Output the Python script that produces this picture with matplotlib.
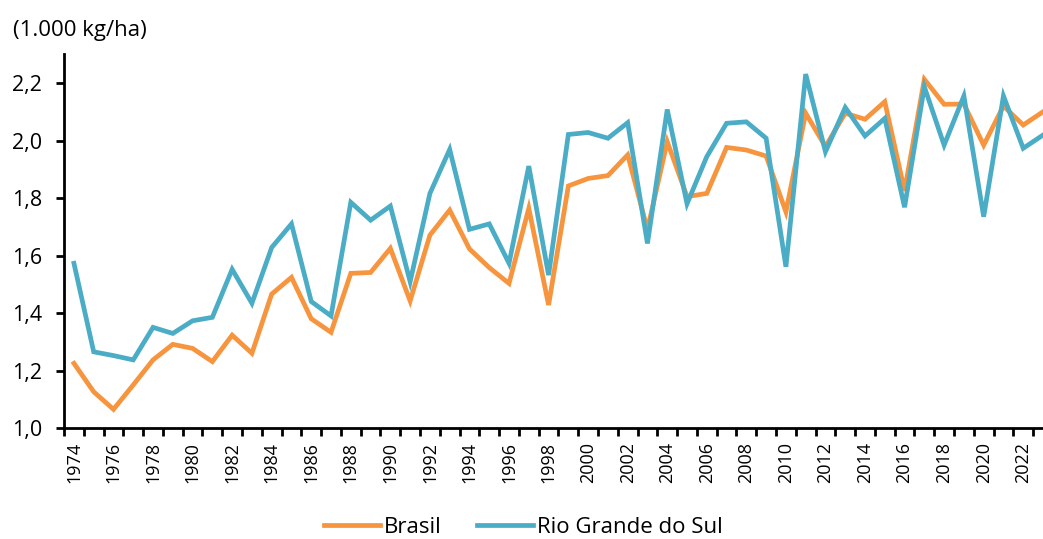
import matplotlib.pyplot as plt
import numpy as np

plt.rcParams['font.family'] = ['Open Sans', 'DejaVu Sans']

anos = list(range(1974, 2024))
brasil = [1.225, 1.126, 1.065, 1.150, 1.237, 1.291, 1.277, 1.231, 1.323, 1.260,
          1.466, 1.524, 1.380, 1.333, 1.538, 1.541, 1.625, 1.442, 1.671, 1.758,
          1.623, 1.558, 1.503, 1.764, 1.428, 1.842, 1.868, 1.878, 1.950, 1.690,
          1.996, 1.805, 1.816, 1.976, 1.967, 1.946, 1.752, 2.095, 1.979, 2.095,
          2.074, 2.135, 1.825, 2.213, 2.126, 2.127, 1.984, 2.120, 2.054, 2.100]
rs = [1.573, 1.265, 1.252, 1.237, 1.350, 1.329, 1.373, 1.385, 1.552, 1.434,
      1.628, 1.710, 1.440, 1.390, 1.785, 1.723, 1.772, 1.509, 1.816, 1.969,
      1.691, 1.710, 1.573, 1.911, 1.532, 2.021, 2.028, 2.008, 2.062, 1.642,
      2.108, 1.780, 1.944, 2.060, 2.065, 2.008, 1.561, 2.231, 1.961, 2.115,
      2.016, 2.077, 1.768, 2.187, 1.984, 2.155, 1.735, 2.155, 1.973, 2.019]

laranja = '#F7943E'
azul = '#4BACC6'

fig = plt.figure(figsize=(10.43, 5.39), dpi=100, facecolor='white')
ax = fig.add_axes([0.0614, 0.2059, 0.9386, 0.6934])

ax.plot(anos, brasil, color=laranja, lw=3.4, label='Brasil', solid_joinstyle='miter')
ax.plot(anos, rs, color=azul, lw=3.4, label='Rio Grande do Sul', solid_joinstyle='miter')

ax.set_xlim(1973.5, 2023.0)
ax.set_ylim(1.0, 2.3)
ax.set_yticks(np.arange(1.0, 2.21, 0.2))
ax.set_yticklabels([f'{v:.1f}'.replace('.', ',') for v in np.arange(1.0, 2.21, 0.2)])
ax.set_xticks(range(1974, 2023, 2))
ax.set_xticklabels([str(a) for a in range(1974, 2023, 2)], rotation=90)
ax.set_xticks(np.arange(1973.5, 2023.1, 1), minor=True)

for s in ['top', 'right']:
    ax.spines[s].set_visible(False)
for s in ['left', 'bottom']:
    ax.spines[s].set_linewidth(2)
    ax.spines[s].set_color('black')

ax.tick_params(axis='x', which='major', length=0, labelsize=13, pad=10)
ax.tick_params(axis='x', which='minor', length=6, width=2)
ax.tick_params(axis='y', length=6, width=2, labelsize=15.5, pad=10)

fig.text(0.012, 0.944, '(1.000 kg/ha)', fontsize=16, va='center', ha='left')

fig.legend(loc='center', bbox_to_anchor=(0.502, 0.022), ncol=2, frameon=False,
           fontsize=16, handlelength=2.5, handletextpad=0.2, columnspacing=1.6)

fig.savefig('out.png', dpi=100)
